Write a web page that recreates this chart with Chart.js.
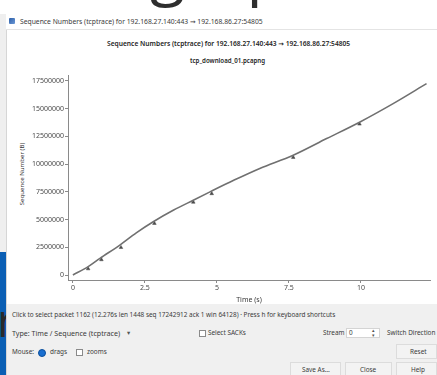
<!DOCTYPE html>
<html>
<head>
<meta charset="utf-8">
<script src="https://cdn.jsdelivr.net/npm/chart.js"></script>
<style>
  html, body { margin: 0; padding: 0; }
  body { width: 437px; height: 375px; position: relative; overflow: hidden; background: #ffffff;
         font-family: "Noto Sans", "DejaVu Sans", sans-serif; color: #333; }
  .abs { position: absolute; white-space: nowrap; }
  #bigword { left: 150px; top: -63px; font-family: "Open Sans", sans-serif; font-size: 64px; line-height: 1; color: #2e2e2e; }
  #sidebar { left: 0; top: 252px; width: 6px; height: 123px; background: #0b5fb4; }
  #sideletter { left: -3px; top: 296px; font-family: "Open Sans", sans-serif; font-size: 46px; line-height: 1; color: #2a2a2a; }
  #leftstrip { left: 0; top: 14px; width: 6px; height: 238px; background: #efefef; }
  #dialog { left: 6px; top: 14px; width: 431px; height: 361px; background: #ffffff; border-left: 1px solid #d6d6d6; box-sizing: border-box; }
  #titlebar { left: 6px; top: 14px; width: 431px; height: 15px; background: #fff; border-bottom: 1px solid #e4e4e4; }
  #appicon { left: 9px; top: 18px; width: 6px; height: 6px; background: linear-gradient(135deg, #2d5fa8, #6b98d6); border-radius: 1px; }
  #panel { left: 7px; top: 304px; width: 430px; height: 71px; background: #f0f0f0; }
  .t { font-size: 6px; line-height: 8px; color: #3a3a3a; }
  .s { font-size: 6.4px; line-height: 8px; color: #3a3a3a; }
  .ttl { font-size: 6px; line-height: 8px; color: #252525; font-weight: 600; }
  .box { position: absolute; width: 5px; height: 5px; border: 1px solid #8a8a8a; background: #fff; }
  .radio { position: absolute; width: 6px; height: 6px; border-radius: 50%; background: #1a6fd0; border: 1px solid #0b4f9c; }
  .btn { position: absolute; background: #f3f3f3; border: 1px solid #dcdcdc; box-sizing: border-box; }
  #chartbox { position: absolute; left: 18px; top: 70px; width: 419px; height: 235px; }
  #ytitle { transform-origin: 50% 50%; }
</style>
</head>
<body>
<script>
// Sequence-number trace of the stream: elapsed time (s) and relative sequence number (bytes)
const timeSec  = [0, 0.53, 0.94, 1.63, 2.2, 2.79, 3.5, 4.18, 4.76, 5.6, 6.49, 7.65, 8.81, 9.97, 11.12, 12.28];
const seqBytes = [0, 750000, 1500000, 2700000, 3800000, 4800000, 5850000, 6740000, 7490000, 8550000, 9600000, 10790000, 12290000, 13790000, 15440000, 17240000];

// Segments flagged on the trace (drawn as small markers under the line)
const markTimeSec  = [0.53, 0.99, 1.67, 2.83, 4.18, 4.82, 7.65, 9.95];
const markSeqBytes = [560000, 1380000, 2480000, 4650000, 6560000, 7330000, 10600000, 13600000];

// Axis ticks
const xTicks = [0, 2.5, 5, 7.5, 10];
const xTickLabels = ["0", "2.5", "5", "7.5", "10"];
const yTicks = [0, 2500000, 5000000, 7500000, 10000000, 12500000, 15000000, 17500000];
const yTickLabels = ["0", "2500000", "5000000", "7500000", "10000000", "12500000", "15000000", "17500000"];
</script>

<div class="abs" id="bigword">graph</div>
<div class="abs" id="leftstrip"></div>
<div class="abs" id="sidebar"></div>
<div class="abs" id="sideletter">r</div>

<div class="abs" id="dialog"></div>
<div class="abs" id="titlebar"></div>
<div class="abs" id="appicon"></div>
<div class="abs t fit" data-w="243" style="left:20px; top:18px;">Sequence Numbers (tcptrace) for 192.168.27.140:443 → 192.168.86.27:54805</div>

<div class="abs ttl fit" data-w="243" style="left:107px; top:40px;">Sequence Numbers (tcptrace) for 192.168.27.140:443 → 192.168.86.27:54805</div>
<div class="abs ttl fit" data-w="75" style="left:190px; top:57px;">tcp_download_01.pcapng</div>

<div class="abs t fit" id="ytitle" data-w="62" data-cx="22" data-cy="174" style="left:0; top:0;">Sequence Number (B)</div>

<div class="abs" id="panel"></div>
<div class="abs t fit" data-w="323" style="left:12px; top:311px;">Click to select packet 1162 (12.276s len 1448 seq 17242912 ack 1 win 64128) · Press h for keyboard shortcuts</div>

<div class="abs t fit" data-w="108" style="left:12px; top:329px;">Type: Time / Sequence (tcptrace)</div>
<div class="abs s" style="left:127px; top:329px; color:#555;">▾</div>
<div class="box" style="left:199px; top:330px;"></div>
<div class="abs s" style="left:208px; top:329px;">Select SACKs</div>
<div class="abs s" style="left:323px; top:329px;">Stream</div>
<div class="abs" style="left:346px; top:328px; width:34px; height:10px; background:#fff; border:1px solid #d4d4d4; box-sizing:border-box;"></div>
<div class="abs s" style="left:349px; top:329px;">0</div>
<div class="abs t" style="left:372px; top:328px; font-size:5px; line-height:5px; color:#555;">▴<br>▾</div>
<div class="abs s" style="left:387px; top:329px;">Switch Direction</div>

<div class="abs s" style="left:12px; top:348px;">Mouse:</div>
<div class="radio" style="left:38px; top:349px;"></div>
<div class="abs s" style="left:50px; top:348px;">drags</div>
<div class="box" style="left:76px; top:349px;"></div>
<div class="abs s" style="left:87px; top:348px;">zooms</div>
<div class="btn" style="left:396px; top:344px; width:41px; height:15px;"></div>
<div class="abs s" style="left:410px; top:348px;">Reset</div>

<div class="btn" style="left:290px; top:362px; width:51px; height:15px;"></div>
<div class="btn" style="left:345px; top:362px; width:47px; height:15px;"></div>
<div class="btn" style="left:396px; top:362px; width:41px; height:15px;"></div>
<div class="abs s" style="left:302px; top:366px;">Save As…</div>
<div class="abs s" style="left:360px; top:366px;">Close</div>
<div class="abs s" style="left:411px; top:366px;">Help</div>

<div id="chartbox"><canvas id="c" width="419" height="235"></canvas></div>

<script>
// Size each label so its text spans the width given in data-w
document.querySelectorAll('.fit').forEach(el => {
  const base = parseFloat(getComputedStyle(el).fontSize);
  const w = el.offsetWidth;
  el.style.fontSize = (base * (+el.dataset.w) / w).toFixed(2) + 'px';
  if (el.dataset.cx) {
    const nw = el.offsetWidth, nh = el.offsetHeight;
    el.style.left = (+el.dataset.cx - nw / 2) + 'px';
    el.style.top = (+el.dataset.cy - nh / 2) + 'px';
    el.style.transform = 'rotate(-90deg)';
  }
});

const tickFont = { family: "Noto Sans", size: 7 };
const seqPoints = timeSec.map((t, i) => ({ x: t, y: seqBytes[i] }));
const markPoints = markTimeSec.map((t, i) => ({ x: t, y: markSeqBytes[i] }));

new Chart(document.getElementById('c'), {
  type: 'scatter',
  data: {
    datasets: [
      {
        label: 'Sequence',
        data: seqPoints,
        showLine: true,
        borderColor: '#707070',
        borderWidth: 1.6,
        pointRadius: 0,
        cubicInterpolationMode: 'monotone'
      },
      {
        label: 'Marked segments',
        data: markPoints,
        showLine: false,
        pointStyle: 'triangle',
        pointRadius: 2.1,
        backgroundColor: '#4a4a4a',
        borderColor: '#4a4a4a',
        borderWidth: 0.5
      }
    ]
  },
  options: {
    responsive: false,
    animation: false,
    devicePixelRatio: 1,
    layout: { padding: { top: 5, right: 7, left: 0, bottom: 0 } },
    plugins: { legend: { display: false }, tooltip: { enabled: false }, title: { display: false } },
    scales: {
      x: {
        type: 'linear',
        min: -0.17,
        max: 12.4,
        afterBuildTicks: s => { s.ticks = xTicks.map(v => ({ value: v })); },
        afterFit: s => { s.height = 25; },
        ticks: {
          font: tickFont, color: '#4a4a4a', padding: 1, maxRotation: 0, autoSkip: false,
          callback: (v, i) => xTickLabels[i]
        },
        grid: { drawOnChartArea: false, tickLength: 3, color: '#8a8a8a' },
        border: { color: '#8a8a8a', width: 1 },
        title: { display: true, text: 'Time (s)', font: tickFont, color: '#3a3a3a', padding: { top: 1, bottom: 1 } }
      },
      y: {
        type: 'linear',
        min: -450000,
        max: 18000000,
        afterBuildTicks: s => { s.ticks = yTicks.map(v => ({ value: v })); },
        afterFit: s => { s.width = 50; },
        ticks: {
          font: tickFont, color: '#4a4a4a', padding: 1, autoSkip: false,
          callback: (v, i) => yTickLabels[i]
        },
        grid: { drawOnChartArea: false, tickLength: 3, color: '#8a8a8a' },
        border: { color: '#8a8a8a', width: 1 },
        title: { display: false }
      }
    }
  }
});
</script>
</body>
</html>
